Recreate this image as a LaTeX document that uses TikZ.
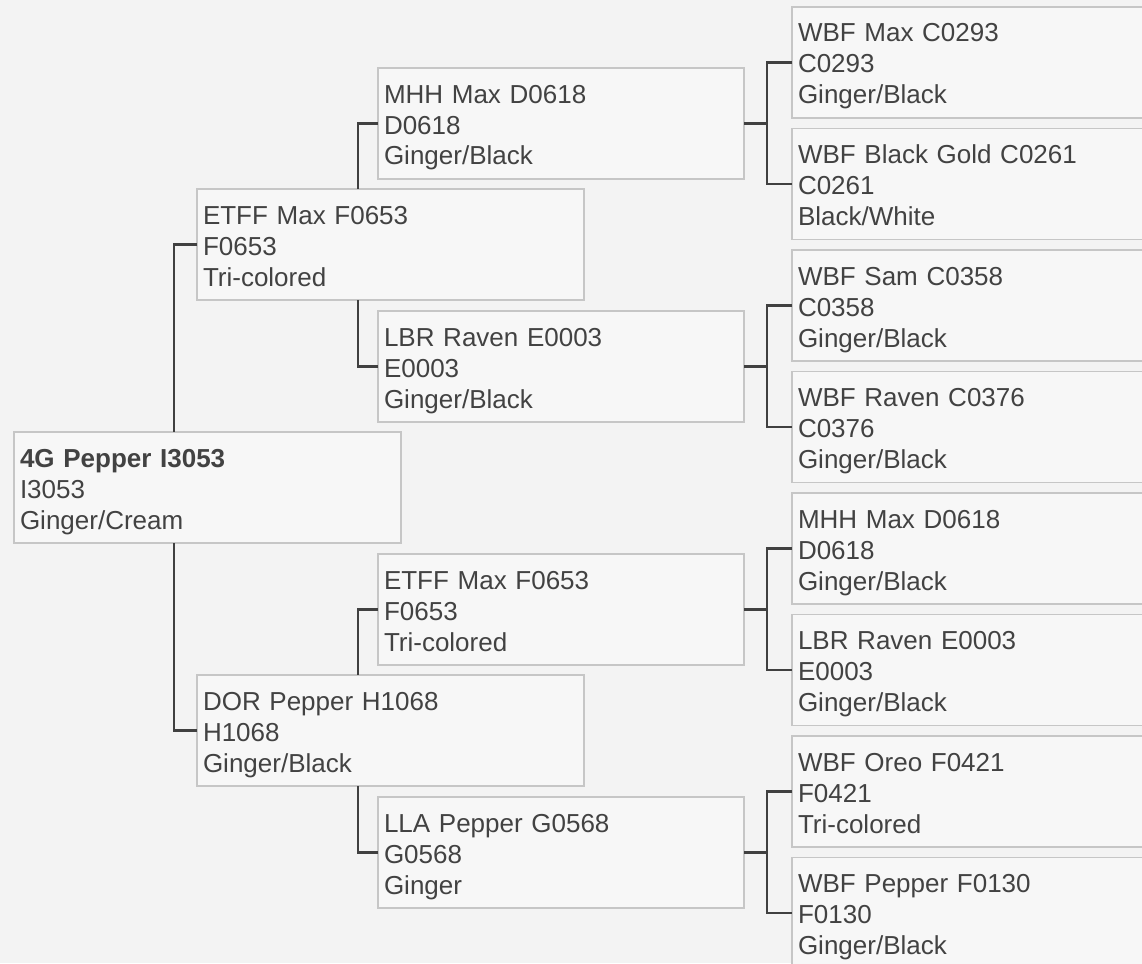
\documentclass[tikz,border=0pt]{standalone}
\usepackage{fontspec}
\setmainfont{Liberation Sans}
\newlength{\du}
\setlength{\du}{1pt}
\definecolor{paper}{RGB}{243,243,243}
\definecolor{boxfill}{RGB}{247,247,247}
\definecolor{boxline}{RGB}{198,198,198}
\definecolor{linkgray}{RGB}{64,64,64}
\definecolor{inkgray}{RGB}{66,66,66}
% three lines of a pedigree card
\newcommand{\dogcard}[3]{\rule{0pt}{27\du}#1\\#2\\#3\rule[-6\du]{0pt}{6\du}}

\begin{document}
\begin{tikzpicture}[x=\du,y=-\du,
  dog/.style={rectangle,draw=boxline,line width=1.5\du,fill=boxfill,anchor=north west,
    minimum height=111\du,inner xsep=6\du,inner ysep=0pt,outer sep=0pt,
    align=left,text=inkgray,font=\fontsize{26}{31}\selectfont},
  wide/.style={minimum width=387\du,text width=375\du},
  narrow/.style={minimum width=366\du,text width=354\du},
  link/.style={draw=linkgray,line width=2.5\du}]
\useasboundingbox (0,0) rectangle (1142,963);
\clip (0,0) rectangle (1142,963);
\fill[paper] (0,0) rectangle (1142,963);

% generation 0 and 1
\node[dog,wide] (pepper) at (14,432) {\dogcard{\textbf{4G Pepper I3053}}{I3053}{Ginger/Cream}};
\node[dog,wide] (sire) at (197,189) {\dogcard{ETFF Max F0653}{F0653}{Tri-colored}};
\node[dog,wide] (dam) at (197,675) {\dogcard{DOR Pepper H1068}{H1068}{Ginger/Black}};

% generation 2
\node[dog,narrow] (ss) at (378,68) {\dogcard{MHH Max D0618}{D0618}{Ginger/Black}};
\node[dog,narrow] (sd) at (378,311) {\dogcard{LBR Raven E0003}{E0003}{Ginger/Black}};
\node[dog,narrow] (ds) at (378,554) {\dogcard{ETFF Max F0653}{F0653}{Tri-colored}};
\node[dog,narrow] (dd) at (378,797) {\dogcard{LLA Pepper G0568}{G0568}{Ginger}};

% generation 3
\node[dog,narrow] (sss) at (792,7) {\dogcard{WBF Max C0293}{C0293}{Ginger/Black}};
\node[dog,narrow] (ssd) at (792,128.5) {\dogcard{WBF Black Gold C0261}{C0261}{Black/White}};
\node[dog,narrow] (sds) at (792,250) {\dogcard{WBF Sam C0358}{C0358}{Ginger/Black}};
\node[dog,narrow] (sdd) at (792,371.5) {\dogcard{WBF Raven C0376}{C0376}{Ginger/Black}};
\node[dog,narrow] (dss) at (792,493) {\dogcard{MHH Max D0618}{D0618}{Ginger/Black}};
\node[dog,narrow] (dsd) at (792,614.5) {\dogcard{LBR Raven E0003}{E0003}{Ginger/Black}};
\node[dog,narrow] (dds) at (792,736) {\dogcard{WBF Oreo F0421}{F0421}{Tri-colored}};
\node[dog,narrow] (ddd) at (792,857.5) {\dogcard{WBF Pepper F0130}{F0130}{Ginger/Black}};

% brackets
\coordinate (pj) at (174,0);
\coordinate (sj) at (358,0);
\coordinate (tj) at (767,0);
\draw[link] (sire.west) -| (pepper.north -| pj);
\draw[link] (dam.west) -| (pepper.south -| pj);
\draw[link] (ss.west) -| (sire.north -| sj);
\draw[link] (sd.west) -| (sire.south -| sj);
\draw[link] (ds.west) -| (dam.north -| sj);
\draw[link] (dd.west) -| (dam.south -| sj);
\draw[link] (ss.east) -- (ss.east -| tj);
\draw[link] (sss.west) -| (ss.east -| tj) |- (ssd.west);
\draw[link] (sd.east) -- (sd.east -| tj);
\draw[link] (sds.west) -| (sd.east -| tj) |- (sdd.west);
\draw[link] (ds.east) -- (ds.east -| tj);
\draw[link] (dss.west) -| (ds.east -| tj) |- (dsd.west);
\draw[link] (dd.east) -- (dd.east -| tj);
\draw[link] (dds.west) -| (dd.east -| tj) |- (ddd.west);
\end{tikzpicture}
\end{document}
